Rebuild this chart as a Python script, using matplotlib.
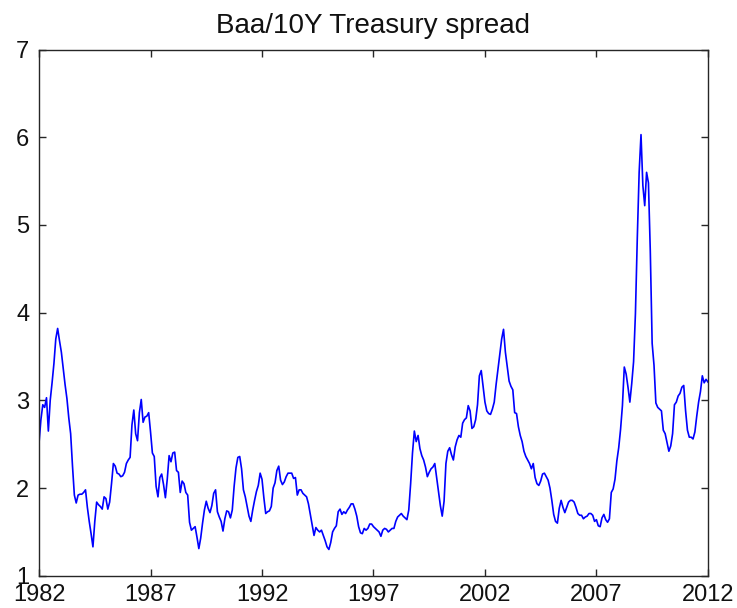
import numpy as np
import matplotlib
matplotlib.use("Agg")
import matplotlib.pyplot as plt

# Monthly Baa corporate yield minus 10-year Treasury yield, in percentage points
spread_by_year = {
    1982: [2.52, 2.78, 2.95, 2.92, 3.03, 2.65, 3.00, 3.20, 3.42, 3.70, 3.82, 3.68],
    1983: [3.55, 3.36, 3.18, 3.02, 2.80, 2.62, 2.25, 1.92, 1.83, 1.92, 1.93, 1.93],
    1984: [1.95, 1.98, 1.78, 1.62, 1.48, 1.33, 1.62, 1.84, 1.81, 1.79, 1.76, 1.90],
    1985: [1.88, 1.76, 1.84, 2.05, 2.28, 2.25, 2.17, 2.16, 2.13, 2.14, 2.18, 2.28],
    1986: [2.32, 2.35, 2.72, 2.89, 2.62, 2.54, 2.86, 3.01, 2.75, 2.81, 2.82, 2.86],
    1987: [2.64, 2.40, 2.36, 2.02, 1.90, 2.12, 2.16, 2.04, 1.89, 2.10, 2.37, 2.30],
    1988: [2.40, 2.41, 2.20, 2.18, 1.95, 2.08, 2.05, 1.95, 1.92, 1.61, 1.52, 1.54],
    1989: [1.56, 1.44, 1.31, 1.43, 1.60, 1.75, 1.85, 1.77, 1.72, 1.80, 1.94, 1.98],
    1990: [1.73, 1.67, 1.62, 1.51, 1.65, 1.74, 1.73, 1.66, 1.75, 2.02, 2.23, 2.35],
    1991: [2.36, 2.22, 1.98, 1.90, 1.79, 1.68, 1.62, 1.75, 1.86, 1.96, 2.03, 2.17],
    1992: [2.10, 1.89, 1.71, 1.73, 1.74, 1.79, 2.00, 2.06, 2.20, 2.25, 2.09, 2.04],
    1993: [2.07, 2.13, 2.17, 2.17, 2.17, 2.11, 2.12, 1.92, 1.98, 1.98, 1.94, 1.92],
    1994: [1.90, 1.82, 1.70, 1.58, 1.46, 1.55, 1.52, 1.50, 1.52, 1.46, 1.40, 1.33],
    1995: [1.30, 1.38, 1.50, 1.54, 1.57, 1.73, 1.76, 1.70, 1.73, 1.71, 1.75, 1.78],
    1996: [1.82, 1.82, 1.76, 1.68, 1.56, 1.49, 1.48, 1.54, 1.52, 1.54, 1.59, 1.59],
    1997: [1.56, 1.54, 1.52, 1.50, 1.45, 1.52, 1.54, 1.53, 1.50, 1.52, 1.54, 1.54],
    1998: [1.62, 1.67, 1.69, 1.71, 1.68, 1.66, 1.64, 1.75, 2.05, 2.40, 2.65, 2.53],
    1999: [2.60, 2.45, 2.37, 2.32, 2.24, 2.13, 2.18, 2.22, 2.24, 2.28, 2.12, 1.96],
    2000: [1.80, 1.68, 1.85, 2.28, 2.42, 2.46, 2.38, 2.32, 2.47, 2.55, 2.60, 2.58],
    2001: [2.74, 2.78, 2.80, 2.94, 2.88, 2.68, 2.70, 2.78, 2.95, 3.28, 3.34, 3.16],
    2002: [2.98, 2.88, 2.85, 2.84, 2.90, 2.98, 3.18, 3.35, 3.52, 3.70, 3.81, 3.55],
    2003: [3.38, 3.22, 3.16, 3.12, 2.86, 2.85, 2.70, 2.60, 2.53, 2.42, 2.36, 2.32],
    2004: [2.28, 2.22, 2.28, 2.12, 2.05, 2.03, 2.08, 2.16, 2.17, 2.13, 2.09, 2.00],
    2005: [1.86, 1.70, 1.62, 1.60, 1.77, 1.86, 1.78, 1.72, 1.78, 1.84, 1.86, 1.86],
    2006: [1.84, 1.78, 1.71, 1.69, 1.69, 1.65, 1.67, 1.68, 1.71, 1.71, 1.69, 1.62],
    2007: [1.64, 1.57, 1.56, 1.66, 1.70, 1.64, 1.61, 1.65, 1.95, 1.99, 2.10, 2.31],
    2008: [2.46, 2.67, 2.94, 3.38, 3.30, 3.15, 2.98, 3.19, 3.44, 3.99, 4.85, 5.60],
    2009: [6.03, 5.45, 5.22, 5.60, 5.48, 4.70, 3.65, 3.40, 2.97, 2.92, 2.90, 2.88],
    2010: [2.66, 2.62, 2.52, 2.42, 2.48, 2.62, 2.95, 2.98, 3.05, 3.08, 3.15, 3.17],
    2011: [2.88, 2.66, 2.58, 2.58, 2.56, 2.64, 2.82, 2.98, 3.10, 3.28, 3.20, 3.24],
    2012: [3.21],
}

x_ticks = [1982, 1987, 1992, 1997, 2002, 2007, 2012]
y_ticks = [1, 2, 3, 4, 5, 6, 7]
title_text = "Baa/10Y Treasury spread"

# Assemble the series on a monthly time axis
spread = []
dates = []
for year, vals in spread_by_year.items():
    for k, v in enumerate(vals):
        spread.append(v)
        dates.append(year + k / 12.0)
spread = np.array(spread)
dates = np.array(dates)

plt.rcParams["font.family"] = ["Liberation Sans", "DejaVu Sans"]

fig = plt.figure(figsize=(7.37, 6.08), dpi=100)
ax = fig.add_axes([0.053, 0.053, 0.9075, 0.8655])

ax.plot(dates, spread, color="#0000ff", linewidth=1.2)

ax.set_xlim(1982, 2012)
ax.set_ylim(1, 7)
ax.set_xticks(x_ticks)
ax.set_yticks(y_ticks)
ax.set_xticklabels([str(t) for t in x_ticks])
ax.set_yticklabels([str(t) for t in y_ticks])

edge = "#262626"
for s in ax.spines.values():
    s.set_color(edge)
    s.set_linewidth(1.0)
ax.tick_params(axis="both", direction="in", length=5, width=1.0, color=edge,
               labelcolor="#111111", labelsize=17,
               top=True, right=True)
ax.tick_params(axis="x", pad=6)
ax.tick_params(axis="y", pad=7)

ax.set_title(title_text, fontsize=20, color="#111111", pad=12)

fig.savefig("out.png", dpi=100, facecolor="white")
